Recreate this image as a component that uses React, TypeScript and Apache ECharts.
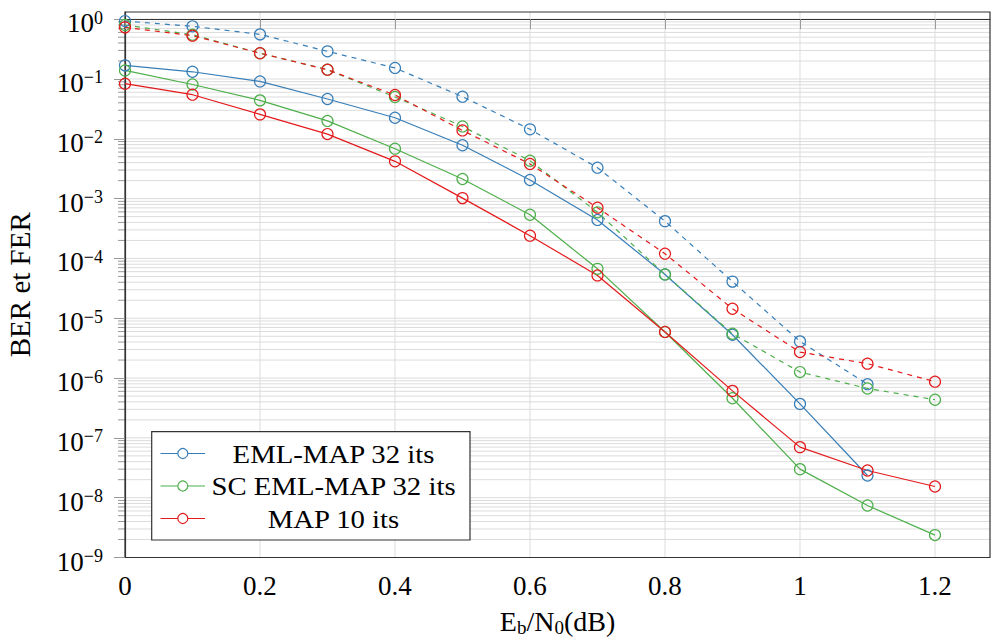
import React, { useEffect, useRef } from 'react';
import * as echarts from 'echarts';

const ebn0 = [0, 0.1, 0.2, 0.3, 0.4, 0.5, 0.6, 0.7, 0.8, 0.9, 1.0, 1.1, 1.2];
const emlBer = [0.169, 0.132, 0.091, 0.0463, 0.0225, 0.0078, 0.00205, 4.4e-4, 5.4e-5, 5.3e-6, 3.7e-7, 2.35e-8];
const emlFer = [0.93, 0.76, 0.557, 0.29, 0.153, 0.0506, 0.0144, 0.00329, 4.2e-4, 4.1e-5, 4.1e-6, 7.9e-7];
const scBer = [0.139, 0.081, 0.0439, 0.0199, 0.00683, 0.00213, 5.37e-4, 6.7e-5, 5.9e-6, 4.6e-7, 3.0e-8, 7.4e-9, 2.37e-9];
const scFer = [0.8, 0.55, 0.27, 0.143, 0.05, 0.0161, 0.0043, 5.9e-4, 5.4e-5, 5.5e-6, 1.26e-6, 6.7e-7, 4.34e-7];
const mapBer = [0.0834, 0.0546, 0.0256, 0.012, 0.0042, 0.00102, 2.4e-4, 5.2e-5, 5.9e-6, 6.1e-7, 7.0e-8, 2.85e-8, 1.54e-8];
const mapFer = [0.73, 0.53, 0.27, 0.143, 0.054, 0.0138, 0.0038, 7.05e-4, 1.2e-4, 1.44e-5, 2.72e-6, 1.74e-6, 8.7e-7];

const legendNames = ['EML-MAP 32 its', 'SC EML-MAP 32 its', 'MAP 10 its'];
const colors = ['#377eb8', '#4daf4a', '#e41a1c'];
const xTicks = [0, 0.2, 0.4, 0.6, 0.8, 1.0, 1.2];
const yDecades = [-9, -8, -7, -6, -5, -4, -3, -2, -1, 0];

const FONT = '"Liberation Serif", "Times New Roman", serif';

function toPoints(vals: number[]) {
  return vals.map((v, i) => [ebn0[i], Math.log10(v)]);
}

export default function App() {
  const ref = useRef<HTMLDivElement>(null);
  useEffect(() => {
    if (!ref.current) return;
    const chart = echarts.init(ref.current, null, { renderer: 'svg' });

    const hLines: number[][] = [];
    for (let e = -9; e <= 0; e++) {
      if (e > -9) hLines.push([0, e, 1]);
      if (e < 0) {
        for (let k = 2; k <= 9; k++) hLines.push([0, e + Math.log10(k), 0]);
      }
    }
    const vLines = xTicks.filter((x) => x > 0).map((x) => [x, -9]);

    const seriesDefs = [
      { vals: emlBer, c: 0, dashed: false },
      { vals: scBer, c: 1, dashed: false },
      { vals: mapBer, c: 2, dashed: false },
      { vals: emlFer, c: 0, dashed: true },
      { vals: scFer, c: 1, dashed: true },
      { vals: mapFer, c: 2, dashed: true },
    ];

    const gx = 125, gRight = 5, gTop = 12, gBottom = 83.5;

    const legendRows = legendNames.map((name, i) => {
      const cy = 453.5 + i * 32.5;
      return [
        { type: 'line', shape: { x1: 160.5, y1: cy, x2: 205, y2: cy }, style: { stroke: colors[i], lineWidth: 1.2 }, z: 101 },
        { type: 'circle', shape: { cx: 182.8, cy, r: 5 }, style: { fill: '#fff', stroke: colors[i], lineWidth: 1.2 }, z: 102 },
        { type: 'text', x: 333.5, y: cy + 1, scaleX: 1.15, style: { text: name, font: `25px ${FONT}`, fill: '#000', align: 'center', verticalAlign: 'middle' }, z: 102 },
      ];
    }).flat();

    chart.setOption({
      animation: false,
      grid: {
        left: gx, right: gRight, top: gTop, bottom: gBottom,
        containLabel: false, outerBoundsMode: 'none',
        show: true, borderColor: '#333', borderWidth: 1.2, backgroundColor: 'transparent',
      },
      xAxis: {
        type: 'value', min: 0, max: 1.2815, interval: 0.2,
        axisLine: { show: true, lineStyle: { color: '#333', width: 1.2 } },
        axisTick: { show: true, length: 10, lineStyle: { color: '#999' }, customValues: xTicks },
        axisLabel: {
          customValues: xTicks,
          margin: 15,
          fontSize: 27, fontFamily: FONT, color: '#000',
          formatter: (v: number) => {
            const r = Math.round(v * 10) / 10;
            if (Math.abs(r * 5 - Math.round(r * 5)) > 1e-6 || v > 1.21) return '';
            return String(r);
          },
        },
        splitLine: { show: false },
        name: '{n|E}{sb|b}{n|/N}{sb|0}{n|(dB)}',
        nameLocation: 'middle', nameGap: 50,
        nameTextStyle: {
          rich: {
            n: { fontSize: 28, fontFamily: FONT, color: '#000', lineHeight: 30, verticalAlign: 'top' },
            sb: { fontSize: 19, fontFamily: FONT, color: '#000', lineHeight: 19, padding: [10, 0, 0, 0], verticalAlign: 'top' },
          },
        },
      },
      yAxis: {
        type: 'value', min: -9, max: 0.12, interval: 1,
        axisLine: { show: true, lineStyle: { color: '#333', width: 1.2 } },
        axisTick: { show: true, length: 11, lineStyle: { color: '#999' }, customValues: yDecades },
        axisLabel: {
          customValues: yDecades,
          margin: 22,
          formatter: (v: number) => {
            const r = Math.round(v);
            if (Math.abs(v - r) > 1e-6) return '';
            return `{b|10}{s|${r === 0 ? '0' : '\u2212' + (-r)}}`;
          },
          rich: {
            b: { fontSize: 27, fontFamily: FONT, color: '#000', lineHeight: 27, padding: [4, 0, 0, 0], verticalAlign: 'top' },
            s: { fontSize: 18, fontFamily: FONT, color: '#000', lineHeight: 18, padding: [3, 0, 0, 0], verticalAlign: 'top' },
          },
        },
        splitLine: { show: false },
        name: 'BER et FER',
        nameLocation: 'middle', nameGap: 91, nameRotate: 90,
        nameTextStyle: { fontSize: 29, fontFamily: FONT, color: '#000' },
      },
      series: [
        {
          type: 'custom', z: -1, silent: true, clip: false,
          data: hLines, encode: { x: 0, y: 1 },
          renderItem: (params: any, api: any) => {
            const v = api.value(1);
            const major = api.value(2);
            const y = api.coord([0, v])[1];
            const cs = params.coordSys;
            const children: any[] = [
              { type: 'line', shape: { x1: cs.x, y1: y, x2: cs.x + cs.width, y2: y }, style: { stroke: '#dcdcdc', lineWidth: 1 } },
            ];
            if (!major) {
              children.push({ type: 'line', shape: { x1: cs.x - 7, y1: y, x2: cs.x, y2: y }, style: { stroke: '#999', lineWidth: 1 } });
            }
            return { type: 'group', children };
          },
        },
        {
          type: 'custom', z: -1, silent: true, clip: false,
          data: vLines, encode: { x: 0, y: 1 },
          renderItem: (params: any, api: any) => {
            const x = api.coord([api.value(0), -9])[0];
            const cs = params.coordSys;
            return { type: 'line', shape: { x1: x, y1: cs.y, x2: x, y2: cs.y + cs.height }, style: { stroke: '#dcdcdc', lineWidth: 1 } };
          },
        },
        ...seriesDefs.map((s) => ({
          type: 'line',
          data: toPoints(s.vals),
          symbol: 'circle',
          symbolSize: 11,
          showSymbol: true,
          silent: true,
          z: 3,
          lineStyle: { color: colors[s.c], width: 1.2, type: s.dashed ? [5, 5] : 'solid' },
          itemStyle: { color: 'rgba(0,0,0,0)', borderColor: colors[s.c], borderWidth: 1.2 },
          emphasis: { disabled: true },
        })),
      ],
      graphic: [
        { type: 'rect', shape: { x: 151.7, y: 431.7, width: 318.3, height: 108.3 }, style: { fill: '#fff', stroke: '#333', lineWidth: 1.2 }, z: 100 },
        ...legendRows,
      ],
    });
    return () => chart.dispose();
  }, []);
  return <div ref={ref} style={{ width: 995, height: 641, position: 'absolute', left: 0, top: 0 }} />;
}
